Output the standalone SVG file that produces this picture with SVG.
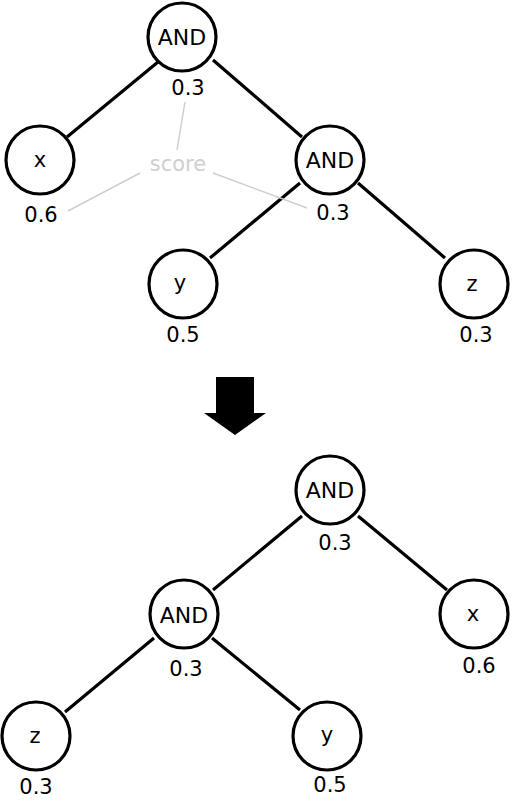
<svg xmlns="http://www.w3.org/2000/svg" width="512" height="800" viewBox="0 0 512 800">
<style>
.n circle{fill:#fff;stroke:#000;stroke-width:3.2}
text{font-family:"DejaVu Sans","Liberation Sans",sans-serif;font-size:21px;text-anchor:middle;fill:#000}
.op{font-size:22px}
.edge line{stroke:#000;stroke-width:3.2}
.note line{stroke:#cfcfcf;stroke-width:1.5}
.note text{fill:#cfcfcf}
</style>
<rect width="512" height="800" fill="#fff"/>
<g id="connectors" class="edge">
<line x1="158" y1="62" x2="67" y2="137"/>
<line x1="213" y1="60" x2="302" y2="137"/>
<line x1="300" y1="183" x2="210" y2="258"/>
<line x1="358" y1="183" x2="445" y2="258"/>
<line x1="302" y1="516" x2="213" y2="590"/>
<line x1="358" y1="516" x2="447" y2="590"/>
<line x1="154" y1="638" x2="65" y2="712"/>
<line x1="212" y1="638" x2="300" y2="710"/>
</g>
<g id="score" class="note">
<line x1="177" y1="150" x2="185" y2="102"/>
<line x1="140" y1="173" x2="68" y2="211"/>
<line x1="213" y1="173" x2="307" y2="208"/>
<text x="178" y="171">score</text>
</g>
<g id="t-and-root" class="n"><circle cx="182" cy="37" r="34"/><text class="op" x="182" y="45">AND</text><text x="188" y="95">0.3</text></g>
<g id="t-x" class="n"><circle cx="40" cy="160" r="34"/><text x="40" y="167">x</text><text x="41" y="222">0.6</text></g>
<g id="t-and" class="n"><circle cx="330" cy="160" r="34"/><text class="op" x="330" y="168">AND</text><text x="333" y="220">0.3</text></g>
<g id="t-y" class="n"><circle cx="183" cy="284" r="34"/><text x="180" y="290">y</text><text x="183" y="342">0.5</text></g>
<g id="t-z" class="n"><circle cx="474" cy="284" r="34"/><text x="472" y="291">z</text><text x="476" y="342">0.3</text></g>
<g id="arrow"><polygon points="216,377 254,377 254,413 266,413 235,435 204,413 216,413" fill="#000"/></g>
<g id="b-and-root" class="n"><circle cx="330" cy="490" r="34"/><text class="op" x="330" y="498">AND</text><text x="335" y="550">0.3</text></g>
<g id="b-and" class="n"><circle cx="184" cy="614" r="34"/><text class="op" x="184" y="623">AND</text><text x="186" y="676">0.3</text></g>
<g id="b-x" class="n"><circle cx="474" cy="614" r="34"/><text x="473" y="621">x</text><text x="479" y="673">0.6</text></g>
<g id="b-z" class="n"><circle cx="36" cy="736" r="34"/><text x="35" y="743">z</text><text x="36" y="794">0.3</text></g>
<g id="b-y" class="n"><circle cx="327" cy="736" r="34"/><text x="327" y="742">y</text><text x="330" y="792">0.5</text></g>
</svg>
